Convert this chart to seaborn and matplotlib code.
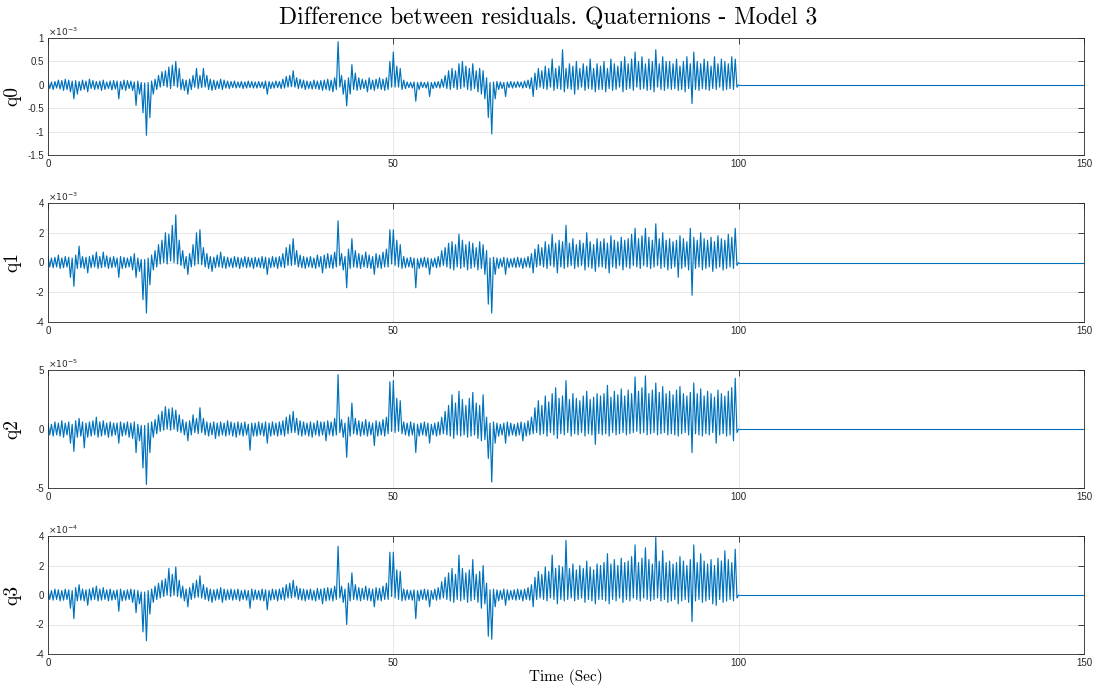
import numpy as np
import pandas as pd
import matplotlib
matplotlib.use("Agg")
import matplotlib.pyplot as plt
import seaborn as sns
from matplotlib.ticker import FuncFormatter

# Residual differences, summarised per 0.5 s window as upper / lower excursion.
# Values are in units of 10^EXP (see EXPONENTS). Signal is zero after t = 100 s.
BIN_WIDTH = 0.5
T_SIGNAL_END = 100
T_END = 150

q0_hi = [0.08,0.06,0.07,0.1,0.09,0.12,0.1,0.08,0.09,0.07, 0.1,0.08,0.12,0.09,0.07,0.08,0.1,0.06,0.08,0.09,
         0.08,0.07,0.1,0.09,0.08,0.06,0.08,0.05,0.04,0.05, 0.08,0.12,0.2,0.28,0.3,0.38,0.42,0.5,0.35,0.12,
         0.1,0.12,0.2,0.35,0.2,0.35,0.2,0.12,0.1,0.08, 0.12,0.1,0.08,0.07,0.08,0.06,0.07,0.06,0.08,0.07,
         0.06,0.07,0.06,0.08,0.07,0.06,0.08,0.07,0.12,0.18, 0.2,0.3,0.15,0.12,0.1,0.08,0.07,0.1,0.08,0.09,
         0.1,0.12,0.1,0.15,0.92,0.2,0.1,0.15,0.43,0.25, 0.15,0.12,0.1,0.15,0.1,0.12,0.15,0.12,0.15,0.5,
         0.7,0.4,0.35,0.1,0.06,0.05,0.06,0.05,0.06,0.05, 0.06,0.05,0.06,0.07,0.12,0.2,0.3,0.35,0.3,0.45,
         0.5,0.4,0.35,0.45,0.3,0.35,0.3,0.15,0.05,0.06, 0.07,0.06,0.05,0.06,0.07,0.06,0.07,0.06,0.08,0.1,
         0.15,0.25,0.35,0.3,0.4,0.35,0.55,0.35,0.4,0.75, 0.35,0.45,0.4,0.5,0.35,0.45,0.4,0.55,0.35,0.45,
         0.4,0.5,0.35,0.55,0.45,0.4,0.5,0.6,0.45,0.55, 0.7,0.5,0.6,0.45,0.55,0.5,0.75,0.45,0.6,0.5,
         0.5,0.45,0.55,0.4,0.5,0.6,0.45,0.7,0.5,0.45, 0.55,0.5,0.4,0.6,0.45,0.55,0.5,0.45,0.6,0.55]
q0_lo = [-0.08,-0.1,-0.07,-0.09,-0.12,-0.1,-0.15,-0.3,-0.2,-0.12, -0.1,-0.15,-0.08,-0.1,-0.09,-0.12,-0.1,-0.08,-0.11,-0.09,
         -0.3,-0.1,-0.12,-0.08,-0.12,-0.44,-0.2,-0.6,-1.08,-0.7, -0.2,-0.1,-0.05,-0.02,-0.05,-0.08,-0.02,-0.05,-0.1,-0.12,
         -0.2,-0.1,-0.05,-0.08,-0.06,-0.05,-0.1,-0.12,-0.1,-0.08, -0.1,-0.07,-0.08,-0.06,-0.07,-0.06,-0.08,-0.07,-0.06,-0.07,
         -0.07,-0.06,-0.08,-0.2,-0.08,-0.07,-0.06,-0.08,-0.07,-0.05, -0.04,-0.05,-0.08,-0.07,-0.1,-0.08,-0.09,-0.08,-0.1,-0.12,
         -0.1,-0.12,-0.15,-0.1,-0.05,-0.2,-0.45,-0.2,-0.1,-0.12, -0.1,-0.08,-0.15,-0.1,-0.12,-0.08,-0.1,-0.12,-0.1,-0.05,
         -0.05,-0.05,-0.1,-0.08,-0.06,-0.07,-0.35,-0.1,-0.06,-0.07, -0.25,-0.08,-0.06,-0.07,-0.05,-0.08,-0.1,-0.06,-0.1,-0.08,
         -0.05,-0.1,-0.12,-0.08,-0.15,-0.2,-0.3,-0.7,-1.05,-0.3, -0.1,-0.08,-0.25,-0.06,-0.07,-0.06,-0.05,-0.07,-0.06,-0.08,
         -0.25,-0.1,-0.05,-0.08,-0.1,-0.05,-0.12,-0.08,-0.1,-0.15, -0.08,-0.1,-0.2,-0.1,-0.05,-0.12,-0.08,-0.1,-0.15,-0.1,
         -0.1,-0.15,-0.08,-0.12,-0.1,-0.05,-0.15,-0.1,-0.08,-0.12, -0.05,-0.1,-0.08,-0.12,-0.1,-0.15,-0.05,-0.1,-0.12,-0.08,
         -0.1,-0.08,-0.12,-0.1,-0.15,-0.08,-0.4,-0.1,-0.12,-0.08, -0.1,-0.12,-0.08,-0.1,-0.05,-0.12,-0.1,-0.08,-0.1,-0.05]

q1_hi = [0.4,0.3,0.35,0.5,0.3,0.4,0.35,0.3,0.5,1.1, 0.4,0.35,0.4,0.5,0.7,0.4,0.7,0.45,0.35,0.4,
         0.3,0.4,0.35,0.3,0.4,0.6,0.3,0.2,0.2,0.3, 0.5,0.8,1.2,1.5,2.0,1.9,2.5,3.2,1.5,0.8,
         0.4,0.6,1.2,2.0,2.2,1.0,0.6,0.4,0.35,0.5, 0.7,0.4,0.35,0.3,0.4,0.35,0.3,0.4,0.35,0.3,
         0.35,0.3,0.4,0.35,0.3,0.4,0.35,0.4,0.6,1.0, 1.2,1.6,0.8,0.5,0.4,0.35,0.4,0.3,0.5,0.4,
         0.5,0.6,0.5,0.7,2.8,0.6,0.4,0.9,1.6,0.8, 0.6,0.5,0.7,0.5,0.4,0.6,0.5,0.7,0.9,2.2,
         2.2,1.5,1.2,0.4,0.3,0.35,0.3,0.25,0.3,0.35, 0.3,0.25,0.3,0.4,0.8,1.0,1.3,1.4,1.2,1.9,
         1.5,1.2,1.4,1.3,1.0,1.4,1.2,0.8,0.3,0.35, 0.3,0.25,0.35,0.3,0.25,0.3,0.35,0.3,0.3,0.4,
         0.6,0.9,1.2,1.0,1.4,1.2,1.9,1.3,1.5,1.4, 2.5,1.3,1.6,1.2,1.5,1.3,2.0,1.4,1.2,1.6,
         1.4,1.6,1.3,1.8,1.5,1.4,1.7,1.5,1.6,1.9, 2.3,1.6,1.8,2.3,1.7,1.5,2.6,1.6,2.0,1.5,
         1.6,1.4,1.5,1.8,1.6,1.4,2.3,1.7,1.5,2.0, 1.6,1.5,1.7,1.4,1.8,1.6,1.5,1.9,1.7,2.3]
q1_lo = [-0.3,-0.35,-0.3,-0.4,-0.35,-0.3,-1.0,-1.6,-0.4,-0.35, -0.4,-0.7,-0.35,-0.3,-0.4,-0.35,-0.3,-0.4,-0.35,-0.3,
         -1.0,-0.4,-0.35,-0.3,-0.5,-1.0,-0.6,-2.5,-3.4,-1.5, -0.5,-0.3,-0.1,0.0,-0.1,0.1,0.0,-0.1,-0.2,-0.4,
         -0.8,-0.3,-0.2,-0.1,-0.15,-0.3,-0.4,-0.6,-0.35,-0.3, -0.35,-0.4,-0.3,-0.35,-0.3,-0.4,-0.3,-0.35,-0.3,-0.4,
         -0.3,-0.35,-0.4,-0.8,-0.35,-0.3,-0.4,-0.3,-0.35,-0.2, -0.2,-0.15,-0.3,-0.35,-0.4,-0.3,-0.35,-0.4,-0.3,-0.7,
         -0.4,-0.35,-0.4,-0.3,-0.2,-0.5,-1.7,-0.4,-0.3,-0.35, -0.4,-0.3,-0.35,-0.4,-0.8,-0.35,-0.4,-0.3,-0.3,-0.1,
         -0.2,-0.3,-0.4,-0.35,-0.3,-0.35,-1.7,-0.4,-0.3,-0.35, -0.8,-0.3,-0.35,-0.3,-0.2,-0.3,-0.4,-0.5,-0.3,-0.4,
         -0.3,-0.5,-0.4,-0.3,-0.5,-0.4,-0.8,-2.8,-3.4,-0.8, -0.4,-0.3,-0.8,-0.35,-0.3,-0.35,-0.3,-0.4,-0.3,-0.35,
         -0.7,-0.3,-0.2,-0.3,-0.4,-0.2,-0.3,-0.7,-0.3,-0.4, -0.3,-0.2,-0.4,-0.3,-0.2,-0.5,-0.3,-0.4,-0.6,-0.3,
         -0.3,-0.4,-0.7,-0.3,-0.4,-0.2,-0.5,-0.3,-0.4,-0.2, -0.3,-0.4,-0.2,-0.3,-0.4,-0.3,-0.2,-0.4,-0.3,-0.5,
         -0.4,-0.3,-1.0,-0.4,-0.3,-0.5,-2.2,-0.4,-0.3,-0.5, -0.4,-0.3,-0.6,-0.4,-0.3,-0.5,-0.4,-0.3,-0.4,-0.2]

q2_hi = [0.5,0.4,0.6,0.5,0.7,0.5,0.6,0.4,0.7,0.9, 0.6,0.5,0.6,0.7,1.0,0.6,0.7,0.5,0.6,0.5,
         0.5,0.6,0.5,0.6,0.5,0.6,0.4,0.3,0.3,0.5, 0.6,0.8,1.2,1.5,1.9,1.7,1.8,1.6,1.2,0.8,
         0.6,0.7,1.2,0.9,1.8,0.9,0.6,0.5,0.6,0.5, 0.6,0.5,0.7,0.6,0.5,0.6,0.5,0.6,0.4,0.5,
         0.5,0.6,0.5,0.6,0.5,0.6,0.5,0.6,0.7,1.0, 1.2,1.5,0.9,0.7,0.6,0.5,0.6,0.5,0.7,0.6,
         0.6,0.7,0.6,0.9,4.6,0.8,0.5,1.0,2.2,0.9, 0.7,0.6,0.8,0.6,0.5,0.7,0.6,0.8,1.0,4.0,
         4.1,2.6,2.4,0.6,0.5,0.6,0.5,0.4,0.5,0.6, 0.5,0.4,0.5,0.6,1.0,1.5,2.0,2.9,2.2,3.2,
         2.5,2.0,2.6,3.1,2.2,2.0,2.9,1.0,0.5,0.6, 0.5,0.4,0.5,0.6,0.5,0.4,0.5,0.6,0.5,0.7,
         1.0,1.8,2.4,2.0,2.8,2.3,3.0,3.5,2.6,2.8, 4.1,2.5,3.0,2.6,2.4,2.8,3.2,2.5,2.7,3.0,
         2.8,3.0,3.7,2.7,3.2,2.9,3.4,2.8,3.3,3.0, 4.4,3.2,3.5,4.5,3.0,3.3,3.9,3.1,3.6,3.0,
         3.2,2.9,3.3,3.6,3.0,2.8,3.1,3.9,3.0,3.4, 2.8,3.2,3.0,2.7,3.3,3.0,2.8,3.2,3.5,4.3]
q2_lo = [-0.5,-0.6,-0.5,-0.6,-0.7,-0.5,-1.2,-1.9,-0.7,-0.6, -1.6,-0.7,-0.6,-0.5,-0.7,-0.6,-0.5,-0.7,-0.6,-0.5,
         -1.2,-0.6,-0.5,-0.7,-0.8,-2.0,-1.0,-3.3,-4.7,-2.0, -0.7,-0.4,-0.2,-0.1,0.0,-0.1,0.0,-0.2,-0.3,-0.5,
         -1.0,-0.5,-0.3,-0.4,-0.3,-0.5,-0.6,-0.5,-0.8,-0.6, -0.5,-0.6,-0.5,-0.6,-0.7,-0.5,-0.6,-0.5,-1.8,-0.6,
         -0.6,-0.5,-0.6,-1.2,-0.6,-0.5,-0.6,-0.5,-0.6,-0.4, -0.3,-0.3,-0.5,-0.6,-0.5,-0.6,-0.7,-0.5,-0.6,-0.5,
         -1.0,-0.5,-0.6,-0.5,-0.3,-0.7,-2.4,-0.6,-0.4,-0.5, -0.6,-0.5,-0.6,-0.5,-1.4,-0.6,-0.5,-0.6,-0.4,-0.2,
         -0.3,-0.2,-0.4,-0.5,-0.6,-0.5,-2.0,-0.6,-0.5,-0.6, -1.2,-0.5,-0.6,-0.5,-0.4,-0.5,-0.6,-0.8,-0.5,-0.6,
         -0.5,-0.7,-0.6,-0.5,-0.8,-1.0,-0.9,-2.5,-4.5,-1.2, -0.6,-0.5,-1.2,-0.6,-0.5,-0.6,-0.5,-1.0,-0.6,-0.5,
         -0.4,-0.3,-0.5,-0.4,-0.6,-0.3,-0.5,-0.8,-0.4,-0.5, -0.3,-0.6,-0.4,-0.5,-0.3,-0.6,-0.4,-0.5,-1.3,-0.4,
         -0.5,-0.4,-0.6,-0.3,-0.5,-0.4,-0.3,-0.5,-0.4,-0.3, -0.2,-0.4,-0.3,-0.5,-0.4,-0.3,-0.5,-0.4,-0.3,-0.5,
         -0.4,-0.5,-0.6,-0.4,-0.3,-0.5,-2.0,-0.4,-0.5,-0.6, -0.4,-0.5,-0.3,-1.2,-0.5,-0.4,-0.6,-0.5,-1.0,-0.3]

q3_hi = [0.35,0.3,0.4,0.35,0.3,0.4,0.35,0.3,0.5,0.7, 0.4,0.35,0.4,0.5,0.6,0.4,0.5,0.35,0.4,0.3,
         0.35,0.4,0.3,0.35,0.4,0.35,0.3,0.2,0.2,0.3, 0.4,0.6,0.8,1.0,1.1,1.8,1.4,1.9,1.0,0.6,
         0.4,0.5,0.8,1.0,1.3,0.7,0.5,0.4,0.35,0.4, 0.5,0.4,0.35,0.4,0.35,0.4,0.3,0.35,0.3,0.4,
         0.35,0.3,0.4,0.35,0.3,0.4,0.35,0.4,0.5,0.7, 0.8,1.0,0.6,0.45,0.4,0.35,0.4,0.3,0.45,0.4,
         0.45,0.5,0.45,0.6,3.3,0.6,0.4,0.8,1.5,0.7, 0.5,0.45,0.6,0.45,0.4,0.5,0.45,0.6,0.8,2.9,
         2.9,1.7,1.6,0.4,0.35,0.3,0.35,0.3,0.35,0.4, 0.35,0.3,0.4,0.5,0.9,1.2,1.5,1.8,1.4,2.7,
         1.8,1.5,1.7,2.4,1.4,1.6,2.0,0.8,0.35,0.4, 0.35,0.3,0.4,0.35,0.3,0.35,0.4,0.35,0.4,0.5,
         0.7,1.2,1.6,1.4,1.9,1.6,2.7,1.8,2.0,1.9, 3.7,1.8,2.1,1.7,2.0,1.8,2.3,1.9,1.7,2.1,
         2.0,2.2,2.8,2.1,2.4,2.0,2.5,2.2,2.3,2.6, 3.4,2.2,2.5,3.2,2.4,2.1,3.9,2.3,3.0,2.2,
         2.3,2.1,2.2,2.6,2.3,2.0,2.4,3.4,2.2,2.8, 2.3,2.1,2.4,2.0,2.5,2.3,3.0,2.4,2.2,3.1]
q3_lo = [-0.3,-0.35,-0.3,-0.4,-0.35,-0.3,-0.9,-1.6,-0.4,-0.35, -0.4,-0.7,-0.35,-0.3,-0.4,-0.35,-0.3,-0.4,-0.35,-0.3,
         -1.1,-0.4,-0.35,-0.3,-0.5,-1.2,-0.6,-2.5,-3.1,-1.3, -0.5,-0.3,-0.2,-0.1,0.0,-0.1,0.0,-0.1,-0.2,-0.4,
         -0.8,-0.3,-0.2,-0.15,-0.2,-0.3,-0.4,-0.5,-0.35,-0.3, -0.5,-0.35,-0.3,-0.35,-0.3,-0.4,-0.3,-0.35,-0.9,-0.35,
         -0.3,-0.35,-0.4,-1.0,-0.35,-0.3,-0.4,-0.3,-0.35,-0.2, -0.2,-0.15,-0.3,-0.35,-0.4,-0.3,-0.35,-0.4,-0.3,-0.6,
         -0.4,-0.35,-0.4,-0.3,-0.2,-0.5,-2.0,-0.4,-0.3,-0.35, -0.4,-0.3,-0.35,-0.4,-0.8,-0.35,-0.4,-0.3,-0.3,-0.1,
         -0.2,-0.3,-0.4,-0.35,-0.3,-0.35,-1.6,-0.4,-0.3,-0.35, -0.8,-0.3,-0.35,-0.3,-0.2,-0.3,-0.4,-0.5,-0.3,-0.4,
         -0.3,-0.5,-0.4,-0.3,-0.5,-0.9,-0.6,-2.8,-3.0,-0.8, -0.4,-0.3,-0.7,-0.35,-0.3,-0.35,-0.3,-0.4,-0.3,-0.35,
         -0.8,-0.3,-0.2,-0.3,-0.4,-0.2,-0.3,-0.6,-0.3,-0.4, -0.3,-0.2,-0.4,-0.3,-0.2,-0.5,-0.3,-0.4,-0.6,-0.3,
         -0.3,-0.4,-0.6,-0.3,-0.4,-0.2,-0.5,-0.3,-0.4,-0.2, -0.3,-0.4,-0.2,-0.3,-0.4,-0.3,-0.2,-0.4,-0.3,-0.5,
         -0.4,-0.3,-0.6,-0.4,-0.3,-0.5,-1.8,-0.4,-0.3,-0.5, -0.4,-0.3,-0.6,-0.7,-0.3,-0.5,-0.4,-0.3,-0.4,-0.2]

LABELS = ["q0", "q1", "q2", "q3"]
EXPONENTS = [-3, -3, -5, -4]
Y_LIMITS = [(-1.5, 1), (-4, 4), (-5, 5), (-4, 4)]
Y_TICKS = [[-1.5, -1, -0.5, 0, 0.5, 1], [-4, -2, 0, 2, 4], [-5, 0, 5], [-4, -2, 0, 2, 4]]
X_TICKS = [0, 50, 100, 150]
SERIES = [(q0_hi, q0_lo), (q1_hi, q1_lo), (q2_hi, q2_lo), (q3_hi, q3_lo)]

TITLE = "Difference between residuals. Quaternions - Model 3"
XLABEL = "Time (Sec)"

LINE_COLOR = "#0072BD"
AXIS_COLOR = "#262626"

sns.set_theme(style="white")
plt.rcParams.update({
    "font.family": ["Liberation Sans", "DejaVu Sans"],
    "axes.unicode_minus": False,
    "mathtext.fontset": "dejavusans",
})


def active_frame(hi, lo):
    """Zig-zag trace through each window's upper then lower excursion."""
    starts = np.arange(len(hi)) * BIN_WIDTH
    t = np.column_stack([starts, starts + BIN_WIDTH / 2]).ravel()
    v = np.column_stack([hi, lo]).ravel()
    t = np.append(t, T_SIGNAL_END)
    v = np.append(v, 0.0)
    return pd.DataFrame({"t": t, "v": v})


# flat part of the record after the excitation ends
tail = pd.DataFrame({"t": [T_SIGNAL_END, T_END], "v": [0.0, 0.0]})

fig = plt.figure(figsize=(10.96, 6.89), dpi=100)
W, H = 1096, 689
left, right = 48, 1084
panels_px = [(38, 155), (203, 322), (370, 488), (536, 654)]

axes = []
for (top, bot) in panels_px:
    ax = fig.add_axes([left / W, 1 - bot / H, (right - left) / W, (bot - top) / H])
    axes.append(ax)

for i, ax in enumerate(axes):
    hi, lo = SERIES[i]
    sns.lineplot(data=active_frame(hi, lo), x="t", y="v", ax=ax, color=LINE_COLOR,
                 linewidth=0.85, estimator=None, sort=False, legend=False)
    sns.lineplot(data=tail, x="t", y="v", ax=ax, color=LINE_COLOR,
                 linewidth=0.8, estimator=None, sort=False, legend=False)
    ax.set_xlim(0, T_END)
    ax.set_ylim(*Y_LIMITS[i])
    ax.set_xticks(X_TICKS)
    ax.set_yticks(Y_TICKS[i])
    ax.yaxis.set_major_formatter(FuncFormatter(lambda v, p: f"{v:g}"))
    ax.xaxis.set_major_formatter(FuncFormatter(lambda v, p: f"{v:g}"))
    ax.grid(True, color="#e3e3e3", linewidth=0.6)
    ax.set_axisbelow(True)
    for s in ax.spines.values():
        s.set_visible(True)
        s.set_color(AXIS_COLOR)
        s.set_linewidth(0.6)
    ax.tick_params(direction="in", top=True, right=True, length=4, width=0.6,
                   color=AXIS_COLOR, labelsize=7, labelcolor=AXIS_COLOR, pad=3)
    ax.set_xlabel("")
    ax.set_ylabel(LABELS[i], family="cmr10", fontsize=14, color="black")
    ax.yaxis.set_label_coords(-0.026, 0.5)
    ax.text(0.0, 1.0, r"$\times10^{%d}$" % EXPONENTS[i], transform=ax.transAxes,
            ha="left", va="bottom", fontsize=6.5, color=AXIS_COLOR)

axes[-1].set_xlabel(XLABEL, family="cmr10", fontsize=11, color="black")
axes[-1].xaxis.set_label_coords(0.5, -0.13)

fig.text(0.5, 1 - 18 / H, TITLE, family="cmr10", fontsize=17,
         ha="center", va="center", color="black")

fig.savefig("out.png", dpi=100, facecolor="white")
